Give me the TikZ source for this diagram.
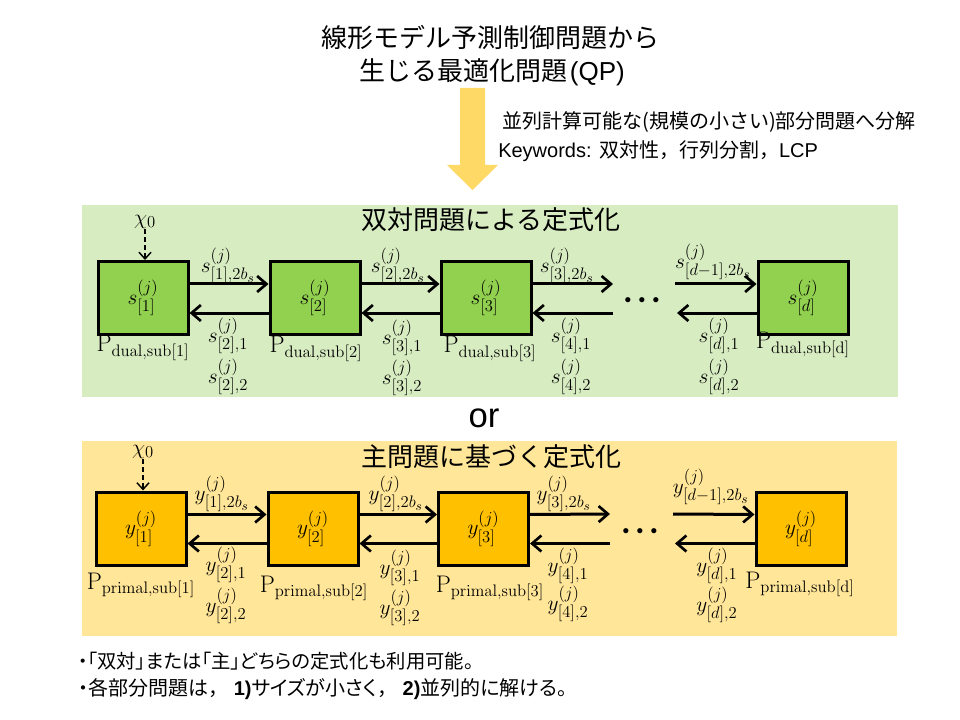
\RequirePackage{fix-cm}
\documentclass[tikz,border=0pt]{standalone}
\usepackage[no-math]{fontspec}
\setmainfont{Liberation Sans}
\newfontfamily\jp{Noto Sans CJK JP}
\newfontfamily\jpp[RawFeature=+palt]{Noto Sans CJK JP}
\usetikzlibrary{arrows.meta}
\DeclareMathSizes{16}{16}{12.5}{10}
\DeclareMathSizes{18}{18}{12.5}{10}
\definecolor{gpanel}{HTML}{D8ECC2}
\definecolor{gbox}{HTML}{92D050}
\definecolor{opanel}{HTML}{FFE699}
\definecolor{obox}{HTML}{FFC000}
\definecolor{yarrow}{HTML}{FFD966}
\tikzset{
  sbox/.style={draw=black, line width=2.25pt, minimum width=67.5pt, minimum height=54.75pt, inner sep=0pt, font=\fontsize{16}{18}\selectfont},
  flow/.style={line width=2.25pt, -{Straight Barb[length=7pt,width=12pt,line width=2pt]}},
  init/.style={line width=1.1pt, dash pattern=on 3.5pt off 2.5pt, -{Straight Barb[length=5pt,width=9pt,line width=1.1pt]}},
  lab/.style={inner sep=0pt, font=\fontsize{16}{18}\selectfont},
  plab/.style={inner sep=0pt, font=\fontsize{18}{20}\selectfont},
  ttl/.style={inner sep=0pt, font=\jp\fontsize{19.5}{24}\selectfont},
  dotsn/.style={inner sep=0pt, font=\fontsize{10}{10}\selectfont},
}
\newcommand{\threedots}{$\bullet$\hspace{5.5pt}$\bullet$\hspace{5.5pt}$\bullet$}
\begin{document}
\begin{tikzpicture}[x=0.75pt,y=-0.75pt]
\useasboundingbox (0,0) rectangle (960,720);
\fill[white] (0,0) rectangle (960,720);

% top title
\node[ttl] (t1) at (490,38) {線形モデル予測制御問題から};
\node[ttl] (t2) at (492,72) {生じる最適化問題\hspace{2pt}{\fontspec{Liberation Sans}(QP)}};

% big arrow
\fill[yarrow] (460,88) -- (485,88) -- (485,165) -- (498,165) -- (472.5,190) -- (447,165) -- (460,165) -- cycle;

\node[inner sep=0pt, anchor=west, font=\jp\fontsize{15}{18}\selectfont] (d1) at (502,122) {並列計算可能な(規模の小さい)部分問題へ分解};
\node[inner sep=0pt, anchor=west, font=\fontsize{15}{18}\selectfont] (d2) at (498,151) {Keywords: {\jp 双対性，行列分割，}LCP};

% ===== dual panel =====
\fill[gpanel] (82,205) rectangle (898,397);
\node[ttl] (gt) at (491,220) {双対問題による定式化};

\node[sbox, fill=gbox] (g1) at (143,298) {$s^{(j)}_{[1]}$};
\node[sbox, fill=gbox] (g2) at (315,298) {$s^{(j)}_{[2]}$};
\node[sbox, fill=gbox] (g3) at (486,298) {$s^{(j)}_{[3]}$};
\node[sbox, fill=gbox] (gd) at (803,298) {$s^{(j)}_{[d]}$};

\node[inner sep=0pt, font=\fontsize{16}{18}\selectfont] (gx) at (145,222) {$\chi_0$};
\draw[init] (gx.south) -- (gx.south |- g1.north);

\coordinate (ga1) at (613,284);
\coordinate (gb1) at (613,313);
\coordinate (ga2) at (675,284);
\coordinate (gb2) at (677,313);
\node[dotsn] (gdots) at (642,301) {\threedots};

\draw[flow] ([yshift=10.5pt]g1.east) -- ([yshift=10.5pt]g2.west);
\draw[flow] ([yshift=10.5pt]g2.east) -- ([yshift=10.5pt]g3.west);
\draw[flow] ([yshift=10.5pt]g3.east) -- (ga1);
\draw[flow] (ga2) -- ([yshift=10.5pt]gd.west);
\draw[flow] ([yshift=-11.25pt]g2.west) -- ([yshift=-11.25pt]g1.east);
\draw[flow] ([yshift=-11.25pt]g3.west) -- ([yshift=-11.25pt]g2.east);
\draw[flow] (gb1) -- ([yshift=-11.25pt]g3.east);
\draw[flow] ([yshift=-11.25pt]gd.west) -- (gb2);

\node[lab] (gl1) at (228,266) {$s^{(j)}_{[1],2b_s}$};
\node[lab] (gl2) at (398,266) {$s^{(j)}_{[2],2b_s}$};
\node[lab] (gl3) at (567,266) {$s^{(j)}_{[3],2b_s}$};
\node[lab] (gl4) at (713,262) {$s^{(j)}_{[d-1],2b_s}$};

\node[lab] (gm1) at (228,336) {$s^{(j)}_{[2],1}$};
\node[lab] (gn1) at (228,377) {$s^{(j)}_{[2],2}$};
\node[lab] (gm2) at (402,338) {$s^{(j)}_{[3],1}$};
\node[lab] (gn2) at (402,378) {$s^{(j)}_{[3],2}$};
\node[lab] (gm3) at (571,336) {$s^{(j)}_{[4],1}$};
\node[lab] (gn3) at (571,377) {$s^{(j)}_{[4],2}$};
\node[lab] (gm4) at (719,336) {$s^{(j)}_{[d],1}$};
\node[lab] (gn4) at (719,377) {$s^{(j)}_{[d],2}$};

\node[plab] (gp1) at (143,348) {$\mathrm{P}_{\mathrm{dual,sub[1]}}$};
\node[plab] (gp2) at (316,349) {$\mathrm{P}_{\mathrm{dual,sub[2]}}$};
\node[plab] (gp3) at (490,349) {$\mathrm{P}_{\mathrm{dual,sub[3]}}$};
\node[plab] (gp4) at (803,345) {$\mathrm{P}_{\mathrm{dual,sub[d]}}$};

% or
\node[inner sep=0pt, font=\fontsize{26}{30}\selectfont] (or) at (484,418) {or};

% ===== primal panel =====
\fill[opanel] (82,441) rectangle (897,636);
\node[ttl] (ot) at (491,457) {主問題に基づく定式化};

\node[sbox, fill=obox] (o1) at (141,528.5) {$y^{(j)}_{[1]}$};
\node[sbox, fill=obox] (o2) at (313,528.5) {$y^{(j)}_{[2]}$};
\node[sbox, fill=obox] (o3) at (483.5,528.5) {$y^{(j)}_{[3]}$};
\node[sbox, fill=obox] (od) at (801,528.5) {$y^{(j)}_{[d]}$};

\node[inner sep=0pt, font=\fontsize{16}{18}\selectfont] (ox) at (143,452) {$\chi_0$};
\draw[init] (ox.south) -- (ox.south |- o1.north);

\coordinate (oa1) at (610,514);
\coordinate (ob1) at (610,543.5);
\coordinate (oa2) at (673,514);
\coordinate (ob2) at (675,543.5);
\node[dotsn] (odots) at (640,532) {\threedots};

\draw[flow] ([yshift=10.5pt]o1.east) -- ([yshift=10.5pt]o2.west);
\draw[flow] ([yshift=10.5pt]o2.east) -- ([yshift=10.5pt]o3.west);
\draw[flow] ([yshift=10.5pt]o3.east) -- (oa1);
\draw[flow] (oa2) -- ([yshift=10.5pt]od.west);
\draw[flow] ([yshift=-11.25pt]o2.west) -- ([yshift=-11.25pt]o1.east);
\draw[flow] ([yshift=-11.25pt]o3.west) -- ([yshift=-11.25pt]o2.east);
\draw[flow] (ob1) -- ([yshift=-11.25pt]o3.east);
\draw[flow] ([yshift=-11.25pt]od.west) -- (ob2);

\node[lab] (ol1) at (222,494) {$y^{(j)}_{[1],2b_s}$};
\node[lab] (ol2) at (396,494) {$y^{(j)}_{[2],2b_s}$};
\node[lab] (ol3) at (564,494) {$y^{(j)}_{[3],2b_s}$};
\node[lab] (ol4) at (711,487) {$y^{(j)}_{[d-1],2b_s}$};

\node[lab] (om1) at (226,565) {$y^{(j)}_{[2],1}$};
\node[lab] (on1) at (226,606) {$y^{(j)}_{[2],2}$};
\node[lab] (om2) at (400,568) {$y^{(j)}_{[3],1}$};
\node[lab] (on2) at (400,608) {$y^{(j)}_{[3],2}$};
\node[lab] (om3) at (568,566) {$y^{(j)}_{[4],1}$};
\node[lab] (on3) at (568,604) {$y^{(j)}_{[4],2}$};
\node[lab] (om4) at (717,566) {$y^{(j)}_{[d],1}$};
\node[lab] (on4) at (717,605) {$y^{(j)}_{[d],2}$};

\node[plab] (op1) at (141,585) {$\mathrm{P}_{\mathrm{primal,sub[1]}}$};
\node[plab] (op2) at (314,588) {$\mathrm{P}_{\mathrm{primal,sub[2]}}$};
\node[plab] (op3) at (490,588) {$\mathrm{P}_{\mathrm{primal,sub[3]}}$};
\node[plab] (op4) at (800,584) {$\mathrm{P}_{\mathrm{primal,sub[d]}}$};

% notes
\node[inner sep=0pt, anchor=west, font=\jpp\fontsize{14.5}{16}\selectfont] (n1) at (78,661) {・「双対」または「主」どちらの定式化も利用可能。};
\node[inner sep=0pt, anchor=west, font=\jpp\fontsize{15}{16}\selectfont] (n2) at (78,689) {・各部分問題は{\jp ，}{\fontspec{Liberation Sans}\bfseries\ 1)}サイズが小さく{\jp ，}{\fontspec{Liberation Sans}\bfseries\ 2)}並列的に解ける。};
\end{tikzpicture}
\end{document}
